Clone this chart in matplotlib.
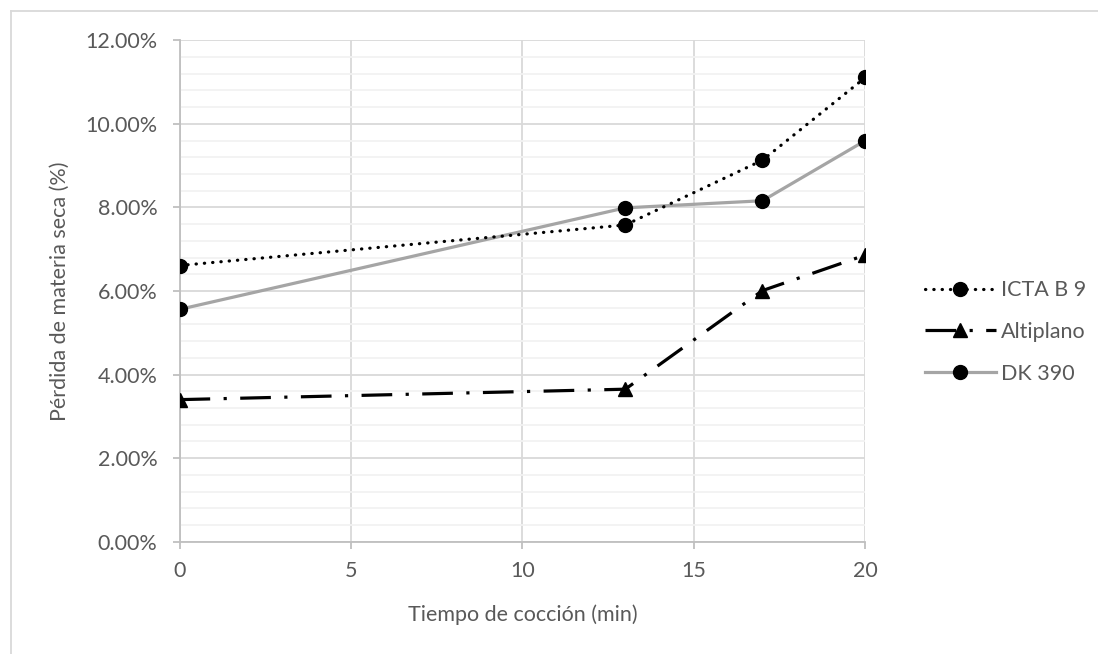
import matplotlib.pyplot as plt
from matplotlib.lines import Line2D
from matplotlib.ticker import FuncFormatter, MultipleLocator

# Datos: tiempo de cocción (min) y pérdida de materia seca (%)
tiempo = [0, 13, 17, 20]
icta_b9 = [6.61, 7.58, 9.13, 11.11]
altiplano = [3.40, 3.65, 6.01, 6.86]
dk390 = [5.56, 7.99, 8.16, 9.60]

plt.rcParams['font.family'] = ['Lato', 'DejaVu Sans']
gris_texto = '#595959'

fig = plt.figure(figsize=(10.98, 6.54), dpi=100)
ax = fig.add_axes([0.1635, 0.1717, 0.6246, 0.7667])

# Series
ax.plot(tiempo, icta_b9, color='black', linewidth=2.3, linestyle=(0, (0.1, 2.5)),
        dash_capstyle='round', marker='o', markersize=10, label='ICTA B 9', zorder=4)
ax.plot(tiempo, altiplano, color='black', linewidth=2.3, linestyle=(0, (9.6, 4.2, 1, 4.2)),
        marker='^', markersize=10, label='Altiplano', zorder=4)
ax.plot(tiempo, dk390, color='#a5a5a5', linewidth=2.3, linestyle='-',
        marker='o', markersize=10, markerfacecolor='black', markeredgecolor='black',
        label='DK 390', zorder=3)

# Ejes y cuadrícula
ax.set_xlim(0, 20)
ax.set_ylim(0, 12)
ax.xaxis.set_major_locator(MultipleLocator(5))
ax.yaxis.set_major_locator(MultipleLocator(2))
ax.yaxis.set_minor_locator(MultipleLocator(0.4))
ax.yaxis.set_major_formatter(FuncFormatter(lambda v, p: f'{v:.2f}%'))

ax.grid(which='minor', axis='y', color='#f2f2f2', linewidth=1.3, zorder=0)
ax.grid(which='major', axis='both', color='#d9d9d9', linewidth=1.3, zorder=1)
ax.set_axisbelow(True)

for lado in ['top', 'right']:
    ax.spines[lado].set_visible(False)
for lado in ['left', 'bottom']:
    ax.spines[lado].set_color('#bfbfbf')
    ax.spines[lado].set_linewidth(1.3)

ax.tick_params(which='major', length=5, width=1.3, color='#bfbfbf',
               labelcolor=gris_texto, labelsize=15.5)
ax.tick_params(axis='y', pad=11)
ax.tick_params(axis='x', pad=9)
ax.tick_params(which='minor', length=0)

ax.set_xlabel('Tiempo de cocción (min)', fontsize=15.5, color=gris_texto, labelpad=17)
ax.set_ylabel('Pérdida de materia seca (%)', fontsize=15.5, color=gris_texto, labelpad=11)

# Leyenda a la derecha
leg = fig.legend(loc='center left', bbox_to_anchor=(916 / 1098, 1 - 332 / 654),
                 frameon=False, fontsize=15.5, handlelength=3.3, handletextpad=0.25,
                 labelspacing=1.0, labelcolor=gris_texto, borderaxespad=0)

# Borde del área del gráfico
fig.add_artist(Line2D([11 / 1098, 1], [1 - 11 / 654] * 2, color='#d9d9d9', linewidth=1.3))
fig.add_artist(Line2D([11 / 1098] * 2, [0, 1 - 11 / 654], color='#d9d9d9', linewidth=1.3))

fig.savefig('out.png', dpi=100)
